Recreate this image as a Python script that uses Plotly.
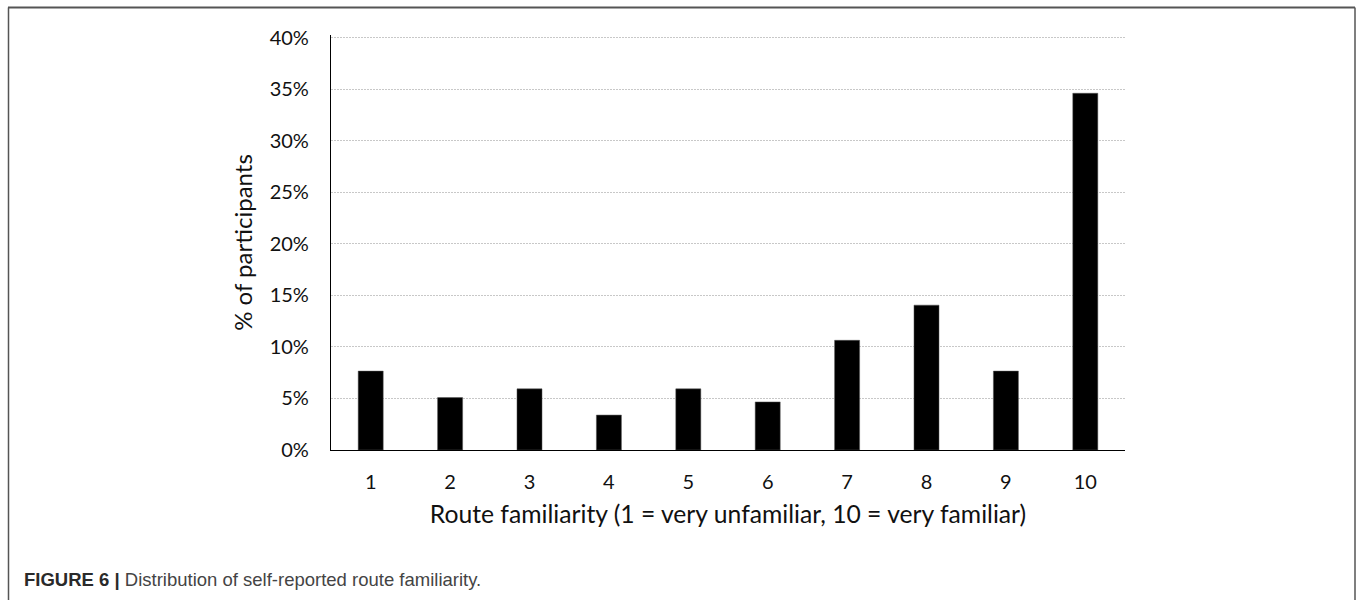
import plotly.graph_objects as go

categories = ["1", "2", "3", "4", "5", "6", "7", "8", "9", "10"]
percent_values = [7.65, 5.08, 5.93, 3.39, 5.93, 4.66, 10.64, 14.05, 7.65, 34.6]
y_tick_vals = [0, 5, 10, 15, 20, 25, 30, 35, 40]
y_tick_text = ["0%", "5%", "10%", "15%", "20%", "25%", "30%", "35%", "40%"]

W, H = 1357, 600
L, R, T, B = 331, 232, 35, 150
pw, ph = W - L - R, H - T - B

def px(x):
    return (x - L) / pw

def py(y):
    return (H - B - y) / ph

fig = go.Figure()
fig.add_trace(go.Bar(
    x=categories, y=percent_values,
    marker=dict(color="black", line=dict(color="#555555", width=0.5)),
    width=0.315,
))

fig.update_layout(
    width=W, height=H,
    margin=dict(l=L, r=R, t=T, b=B),
    paper_bgcolor="white", plot_bgcolor="white",
    showlegend=False,
    font=dict(family="Lato, Open Sans, sans-serif", color="black"),
    xaxis=dict(
        type="category",
        showline=True, linecolor="black", linewidth=1.2,
        showgrid=False, ticks="",
        ticklabelstandoff=14,
        tickfont=dict(size=20, color="#111111"),
        title=dict(text="Route familiarity (1 = very unfamiliar, 10 = very familiar)",
                   font=dict(size=24.7, color="#111111"), standoff=13),
    ),
    yaxis=dict(
        range=[0, 40.25],
        tickvals=y_tick_vals, ticktext=y_tick_text,
        showline=True, linecolor="black", linewidth=1.2,
        showgrid=True, gridcolor="#c8c8c8", griddash="2px,1px", gridwidth=1,
        zeroline=False, ticks="",
        ticklabelstandoff=17,
        tickfont=dict(size=20, color="#111111"),
        title=dict(text="% of participants", font=dict(size=24, color="#111111"), standoff=10),
    ),
    shapes=[
        dict(type="line", xref="paper", yref="paper",
             x0=px(8), x1=px(1355), y0=py(7.5), y1=py(7.5),
             line=dict(color="#555555", width=2)),
        dict(type="line", xref="paper", yref="paper",
             x0=px(8.5), x1=px(8.5), y0=py(7.5), y1=py(600),
             line=dict(color="#555555", width=1.5)),
        dict(type="line", xref="paper", yref="paper",
             x0=px(1355), x1=px(1355), y0=py(7.5), y1=py(600),
             line=dict(color="#555555", width=1.5)),
    ],
    annotations=[
        dict(xref="paper", yref="paper", x=px(22), y=py(579),
             xanchor="left", yanchor="middle", showarrow=False,
             text="<b>FIGURE 6 |</b> <span style='color:#444444'>Distribution of self-reported route familiarity.</span>",
             font=dict(family="Liberation Sans, Arial, sans-serif", size=18.5, color="#2a2a2a")),
    ],
)

fig.write_html("out.html", config={"displayModeBar": False},
               post_script="document.body.style.margin='0';")
